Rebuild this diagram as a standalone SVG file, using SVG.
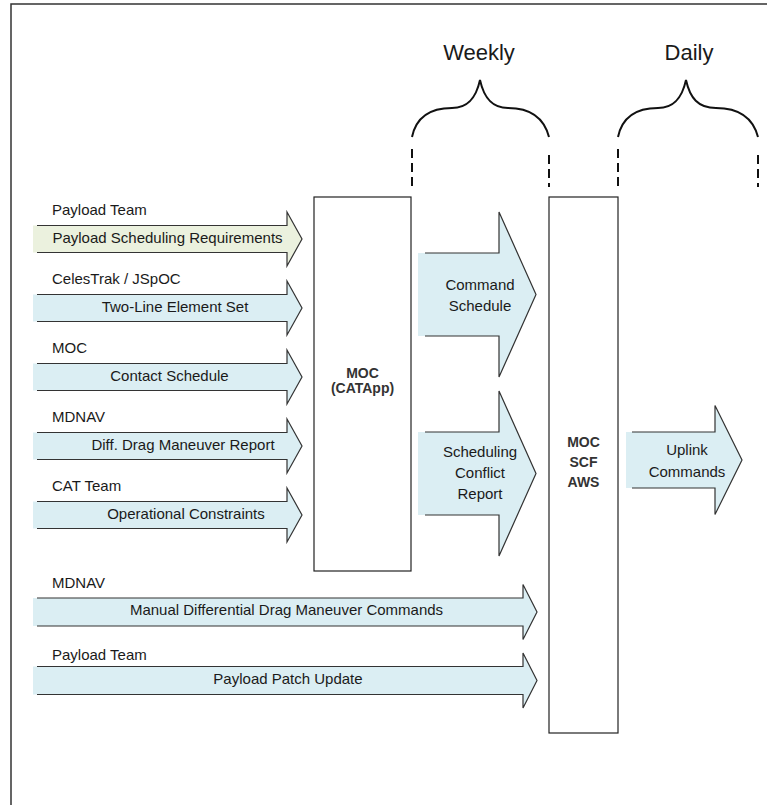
<svg xmlns="http://www.w3.org/2000/svg" width="767" height="805" viewBox="0 0 767 805">
<style>
  text { font-family: "Liberation Sans", Arial, sans-serif; fill: #1a1a1a; }
  .lbl { font-size: 15px; }
  .mid { font-size: 15px; text-anchor: middle; }
  .box { fill: #ffffff; stroke: #222; stroke-width: 1.2; }
  .boxt { font-size: 14px; font-weight: bold; text-anchor: middle; fill: #333; }
  .fillb { fill: #dbeef3; stroke: none; }
  .fillg { fill: #ebf1de; stroke: none; }
  .edge { fill: none; stroke: #333; stroke-width: 1.2; stroke-linejoin: miter; }
  .brace { fill: none; stroke: #111; stroke-width: 2; }
  .dash { fill: none; stroke: #111; stroke-width: 2; stroke-dasharray: 9 5; }
  .hdr { font-size: 22px; text-anchor: middle; }
</style>

<!-- page border -->
<g id="border">
  <path d="M11,805 L11,4 L767,4" fill="none" stroke="#333" stroke-width="1.5"/>
</g>

<!-- timeline headers -->
<g id="weekly">
  <text class="hdr" x="479" y="60">Weekly</text>
  <path class="brace" d="M412,137 C416,118 430,108 452,108 C468,108 476,98 480,80 C484,98 492,108 508,108 C530,108 544,118 549,137"/>
  <line class="dash" x1="412" y1="149" x2="412" y2="187"/>
  <line class="dash" x1="549" y1="155" x2="549" y2="187"/>
</g>
<g id="daily">
  <text class="hdr" x="689" y="60">Daily</text>
  <path class="brace" d="M618,137 C622,118 636,108 658,108 C674,108 682,98 686,80 C690,98 698,108 716,108 C740,108 753,118 758,137"/>
  <line class="dash" x1="618" y1="149" x2="618" y2="187"/>
  <line class="dash" x1="758" y1="155" x2="758" y2="187"/>
</g>

<!-- nodes -->
<g id="moc-catapp">
  <rect class="box" x="314" y="197" width="97" height="374"/>
  <text class="boxt" x="362.5" y="378">MOC</text>
  <text class="boxt" x="362.5" y="393">(CATApp)</text>
</g>
<g id="moc-scf-aws">
  <rect class="box" x="549" y="197" width="69" height="536"/>
  <text class="boxt" x="583.5" y="447">MOC</text>
  <text class="boxt" x="583.5" y="467">SCF</text>
  <text class="boxt" x="583.5" y="487">AWS</text>
</g>

<!-- connectors (block arrows) -->
<g id="connectors">
  <g id="in-payload-req">
    <text class="lbl" x="52" y="215">Payload Team</text>
    <polygon class="fillg" points="33,225.5 287,225.5 287,212 302,239 287,266 287,252.5 33,252.5"/>
    <polyline class="edge" points="37,225.5 287,225.5 287,212 302,239 287,266 287,252.5 37,252.5"/>
    <text class="mid" x="167.5" y="242.5">Payload Scheduling Requirements</text>
  </g>
  <g id="in-tle">
    <text class="lbl" x="52" y="284">CelesTrak / JSpOC</text>
    <polygon class="fillb" points="33,294.5 287,294.5 287,281 302,308 287,335 287,321.5 33,321.5"/>
    <polyline class="edge" points="37,294.5 287,294.5 287,281 302,308 287,335 287,321.5 37,321.5"/>
    <text class="mid" x="175" y="311.5">Two-Line Element Set</text>
  </g>
  <g id="in-contact">
    <text class="lbl" x="52" y="353">MOC</text>
    <polygon class="fillb" points="33,363.5 287,363.5 287,350 302,377 287,404 287,390.5 33,390.5"/>
    <polyline class="edge" points="37,363.5 287,363.5 287,350 302,377 287,404 287,390.5 37,390.5"/>
    <text class="mid" x="169.5" y="380.5">Contact Schedule</text>
  </g>
  <g id="in-dragreport">
    <text class="lbl" x="52" y="422">MDNAV</text>
    <polygon class="fillb" points="33,432.5 287,432.5 287,419 302,446 287,473 287,459.5 33,459.5"/>
    <polyline class="edge" points="37,432.5 287,432.5 287,419 302,446 287,473 287,459.5 37,459.5"/>
    <text class="mid" x="183" y="449.5">Diff. Drag Maneuver Report</text>
  </g>
  <g id="in-constraints">
    <text class="lbl" x="52" y="491">CAT Team</text>
    <polygon class="fillb" points="33,501.5 287,501.5 287,488 302,515 287,542 287,528.5 33,528.5"/>
    <polyline class="edge" points="37,501.5 287,501.5 287,488 302,515 287,542 287,528.5 37,528.5"/>
    <text class="mid" x="186" y="518.5">Operational Constraints</text>
  </g>
  <g id="in-manual-drag">
    <text class="lbl" x="52" y="588">MDNAV</text>
    <polygon class="fillb" points="33,598 523,598 523,584.5 537,612 523,639.5 523,626 33,626"/>
    <polyline class="edge" points="37,598 523,598 523,584.5 537,612 523,639.5 523,626 37,626"/>
    <text class="mid" x="286.5" y="615">Manual Differential Drag Maneuver Commands</text>
  </g>
  <g id="in-patch">
    <text class="lbl" x="52" y="660">Payload Team</text>
    <polygon class="fillb" points="33,666.5 523,666.5 523,653 537,680.5 523,708 523,694.5 33,694.5"/>
    <polyline class="edge" points="37,666.5 523,666.5 523,653 537,680.5 523,708 523,694.5 37,694.5"/>
    <text class="mid" x="288" y="684">Payload Patch Update</text>
  </g>
  <g id="cmd-schedule">
    <polygon class="fillb" points="418,253 499,253 499,212 536,294.5 499,377 499,336 418,336"/>
    <polyline class="edge" points="425,253 499,253 499,212 536,294.5 499,377 499,336 425,336"/>
    <text class="mid" x="480" y="290">Command</text>
    <text class="mid" x="480" y="311">Schedule</text>
  </g>
  <g id="conflict-report">
    <polygon class="fillb" points="418,432 499,432 499,391 536,473.5 499,556 499,515 418,515"/>
    <polyline class="edge" points="425,432 499,432 499,391 536,473.5 499,556 499,515 425,515"/>
    <text class="mid" x="480" y="457">Scheduling</text>
    <text class="mid" x="480" y="478">Conflict</text>
    <text class="mid" x="480" y="499">Report</text>
  </g>
  <g id="uplink">
    <polygon class="fillb" points="626,432 715,432 715,405.5 742,460 715,514.5 715,488 626,488"/>
    <polyline class="edge" points="632,432 715,432 715,405.5 742,460 715,514.5 715,488 632,488"/>
    <text class="mid" x="687" y="455">Uplink</text>
    <text class="mid" x="687" y="477">Commands</text>
  </g>
</g>
</svg>
